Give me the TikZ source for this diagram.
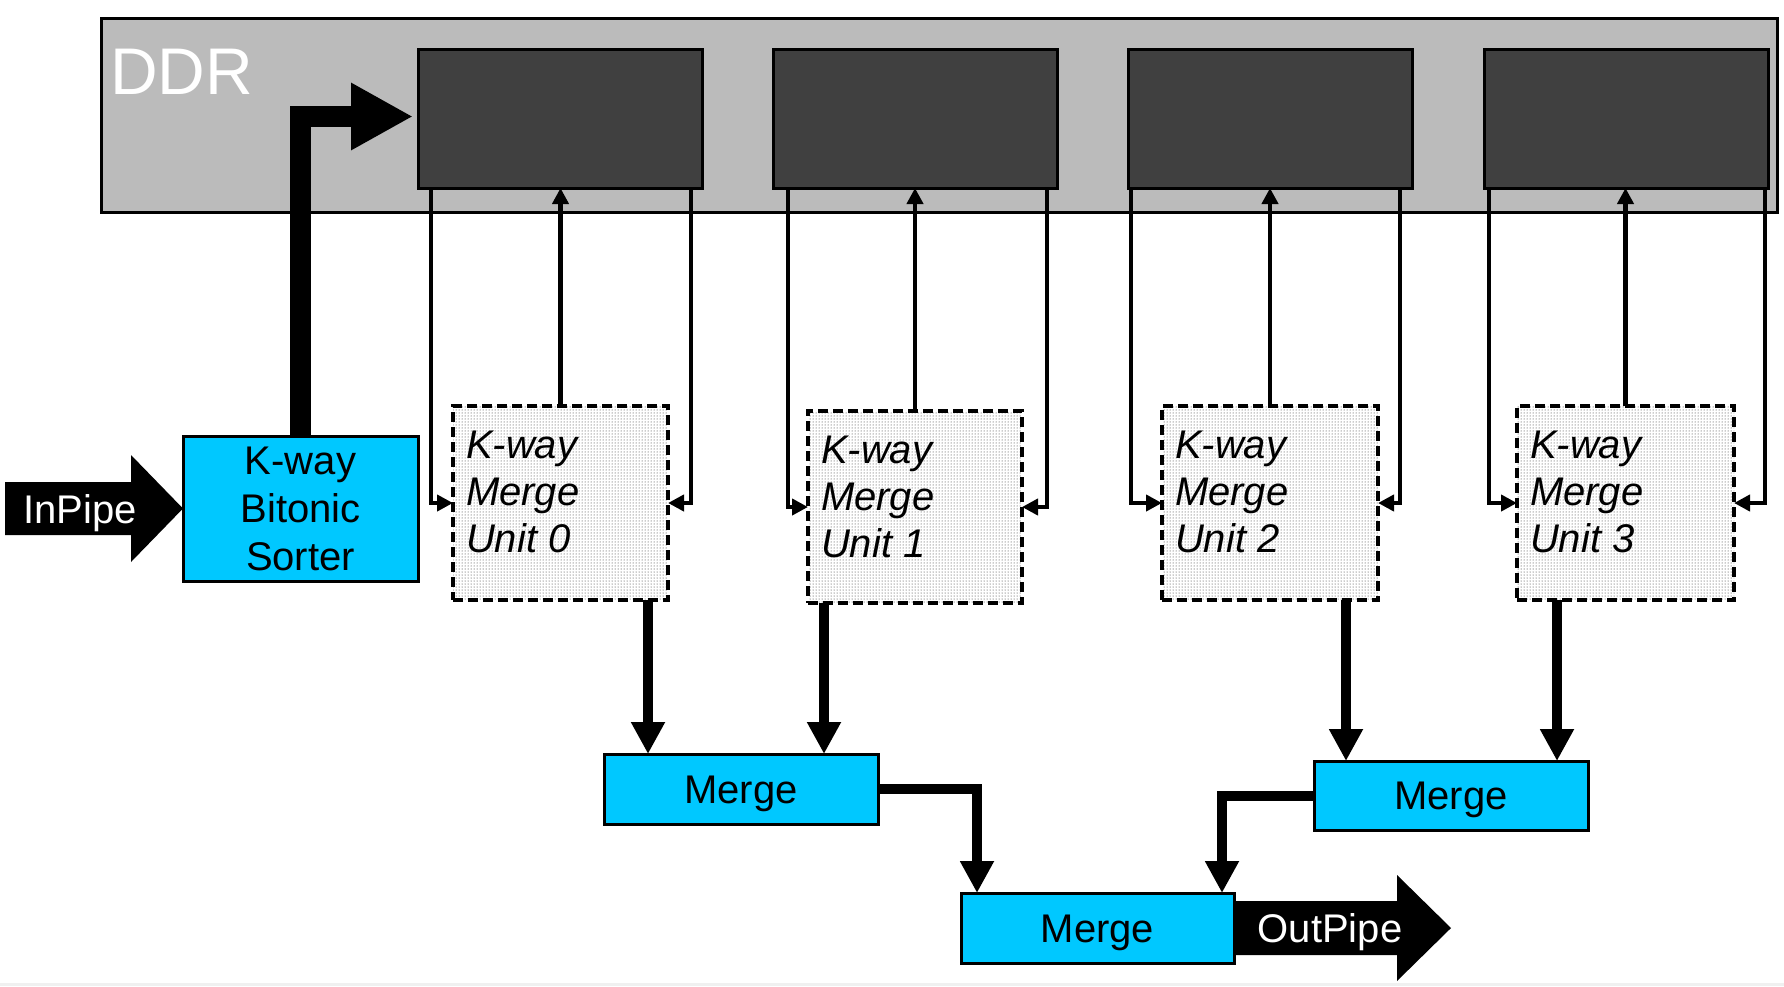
\documentclass[tikz,border=0pt]{standalone}
\usepackage{fontspec}
\setmainfont{Liberation Sans}
\usetikzlibrary{arrows.meta,patterns,calc}
\definecolor{boxcyan}{RGB}{0,200,255}
\definecolor{ddrgray}{RGB}{187,187,187}
\definecolor{memgray}{RGB}{64,64,64}
\definecolor{stripgray}{RGB}{240,240,240}
\begin{document}
\begin{tikzpicture}[x=1pt,y=-1pt,
  every node/.style={inner sep=0pt, outer sep=0pt},
  ddrbox/.style={draw=black, line width=3pt, fill=ddrgray},
  memblk/.style={draw=black, line width=3pt, fill=memgray, minimum width=284pt, minimum height=139pt},
  unitbox/.style={preaction={fill=white}, pattern=dots, pattern color=black!85, draw=black, line width=3.5pt, dash pattern=on 10pt off 5pt},
  unittext/.style={font=\fontsize{40}{47}\selectfont\itshape, align=left, anchor=north west},
  cyanbox/.style={draw=black, line width=3pt, fill=boxcyan, font=\fontsize{40}{48}\selectfont, align=center},
  mergebox/.style={cyanbox, minimum width=274pt, minimum height=70pt, text height=28.6pt, text depth=0pt},
  pipetext/.style={text=white, font=\fontsize{40}{46}\selectfont, anchor=base},
  thinarrow/.style={draw=black, line width=4.8pt, -{Triangle[length=16pt,width=16pt]}},
  thickarrow/.style={draw=black, line width=10pt, -{Triangle[length=32pt,width=32pt]}},
  bigarrow/.style={draw=black, line width=21pt, -{Triangle[length=62pt,width=63pt]}}
]
\useasboundingbox (0,0) rectangle (1784,986);
\fill[white] (0,0) rectangle (1784,986);
\fill[stripgray] (0,983) rectangle (1784,986);

% DDR region
\node[ddrbox, minimum width=1676pt, minimum height=194pt] (ddr) at (939,115) {};
\node[anchor=base west, text=white, font=\fontsize{66}{70}\selectfont] (ddrlabel) at (110,94) {DDR};

\node[memblk] (d0) at (560,118.5) {};
\node[memblk] (d1) at (915,118.5) {};
\node[memblk] (d2) at (1270.5,118.5) {};
\node[memblk] (d3) at (1626,118.5) {};

% Merge units
\node[unitbox, minimum width=215pt, minimum height=194pt] (u0) at (560.5,503) {};
\node[unitbox, minimum width=214pt, minimum height=192pt] (u1) at (915,507) {};
\node[unitbox, minimum width=216pt, minimum height=194pt] (u2) at (1270,503) {};
\node[unitbox, minimum width=217pt, minimum height=194pt] (u3) at (1625.5,503) {};
\node[unittext] (u0t) at ($(u0.north west)+(13,25)$) {K-way\\Merge\\Unit 0};
\node[unittext] (u1t) at ($(u1.north west)+(13,25)$) {K-way\\Merge\\Unit 1};
\node[unittext] (u2t) at ($(u2.north west)+(13,25)$) {K-way\\Merge\\Unit 2};
\node[unittext] (u3t) at ($(u3.north west)+(13,25)$) {K-way\\Merge\\Unit 3};

% sorter
\node[cyanbox, minimum width=235pt, minimum height=145pt] (sorter) at (300.5,508.5) {K-way\\Bitonic\\Sorter};

% merge boxes
\node[mergebox] (mA) at (741,789) {Merge};
\node[mergebox, minimum height=69pt] (mB) at (1451,795.5) {Merge};

% OutPipe arrow (drawn before the final merge box)
\fill[black] (1230,901) -- (1397,901) -- (1397,875) -- (1451,928) -- (1397,981) -- (1397,955) -- (1230,955) -- cycle;
\node[mergebox, minimum width=273pt] (mC) at (1097.5,928) {Merge};
\node[pipetext] (outpipe) at (1330,942) {OutPipe};

% InPipe arrow
\fill[black] (5,482) -- (131,482) -- (131,455) -- (183,508.5) -- (131,562) -- (131,535) -- (5,535) -- cycle;
\node[pipetext] (inpipe) at (80,523) {InPipe};

% thin DDR connectors
\coordinate (d0l) at (431,188);  \coordinate (d0r) at (691,188);
\coordinate (d1l) at (788,188);  \coordinate (d1r) at (1047,188);
\coordinate (d2l) at (1131,188); \coordinate (d2r) at (1400,188);
\coordinate (d3l) at (1489,188); \coordinate (d3r) at (1765,188);
\foreach \i in {0,1,2,3}{
  \draw[thinarrow] (d\i l) |- (u\i.west);
  \draw[thinarrow] (d\i r) |- (u\i.east);
  \draw[thinarrow] (u\i.north) -- (u\i.north |- d\i.south);
}

% sorter to DDR
\coordinate (ddrtip) at (413,116.5);
\draw[bigarrow] (sorter.north) |- (ddrtip);

% units to merges
\coordinate (mAi1) at (648,754);  \coordinate (mAi2) at (824,754);
\coordinate (mBi1) at (1346,761); \coordinate (mBi2) at (1557,761);
\coordinate (mCi1) at (977,893);  \coordinate (mCi2) at (1222,893);
\draw[thickarrow] (mAi1 |- u0.south) -- (mAi1);
\draw[thickarrow] (mAi2 |- u1.south) -- (mAi2);
\draw[thickarrow] (mBi1 |- u2.south) -- (mBi1);
\draw[thickarrow] (mBi2 |- u3.south) -- (mBi2);
\draw[thickarrow] (mA.east) -| (mCi1);
\draw[thickarrow] (mB.west) -| (mCi2);
\end{tikzpicture}
\end{document}
